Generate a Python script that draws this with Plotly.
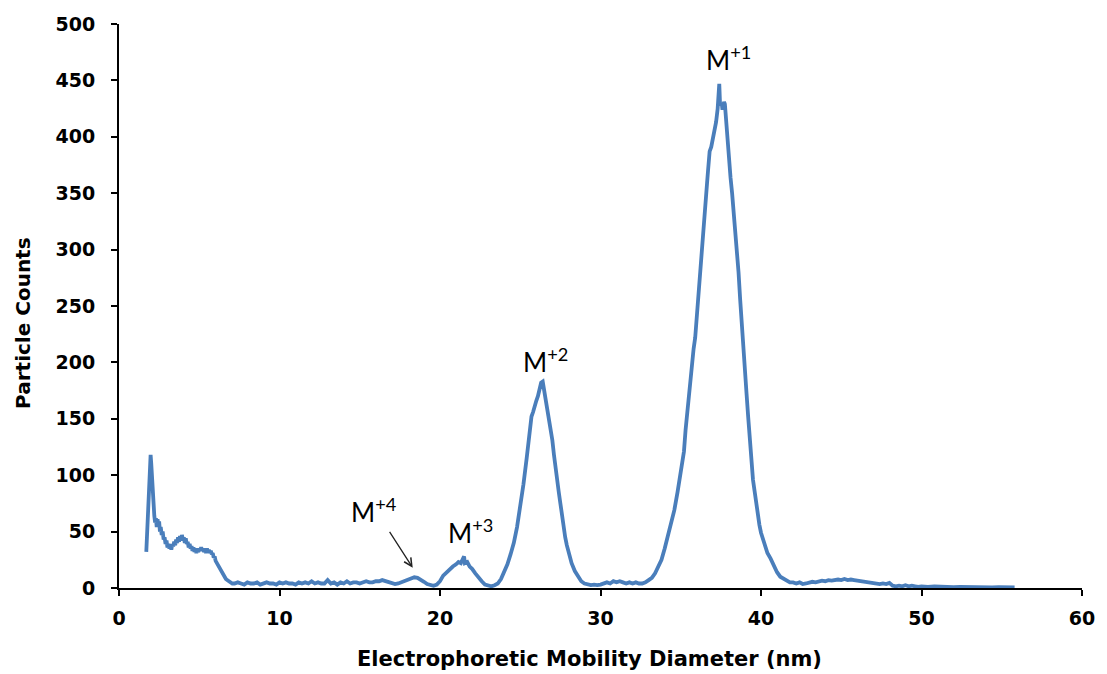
import plotly.graph_objects as go

# Particle size distribution measured by electrophoretic mobility, split by region
x_low = [1.70, 1.76, 1.82, 1.88, 1.93, 1.97, 2.01, 2.05, 2.10,
         2.15, 2.20, 2.25, 2.30, 2.35, 2.40, 2.45, 2.50, 2.55, 2.60,
         2.66, 2.72, 2.78, 2.84, 2.90, 2.96, 3.02, 3.08, 3.14, 3.20,
         3.26, 3.32, 3.38, 3.44, 3.50, 3.56, 3.62, 3.68, 3.74, 3.80,
         3.86, 3.92, 3.98, 4.04, 4.10, 4.16, 4.22, 4.28, 4.34, 4.40,
         4.46, 4.52, 4.58, 4.64, 4.70, 4.76, 4.82, 4.88, 4.94, 5.00,
         5.06, 5.12, 5.18, 5.24, 5.30, 5.36, 5.42, 5.48, 5.54, 5.60,
         5.66, 5.72, 5.78, 5.84, 5.90, 5.96, 6.02,
         6.10, 6.18, 6.26, 6.34, 6.42, 6.50, 6.58, 6.66, 6.74, 6.82, 6.90, 6.98, 7.06]
y_low = [32, 52, 78, 100, 115, 118, 110, 98, 84,
         72, 64, 58, 62, 54, 61, 56, 59, 50, 54,
         47, 50, 43, 45, 39, 42, 36, 39, 35, 38,
         34, 39, 37, 41, 38, 43, 40, 45, 41, 46,
         42, 47, 43, 45, 40, 44, 39, 41, 36, 39,
         35, 37, 33, 36, 32, 35, 31, 34, 32, 35,
         33, 36, 33, 35, 32, 34, 31, 35, 32, 34,
         31, 33, 30, 31, 27, 28, 24,
         22, 19, 18, 15, 14, 11, 10, 8, 7, 6, 5, 5, 4]

x_base = [7.2, 7.4, 7.6, 7.8, 8.0, 8.2, 8.4, 8.6, 8.8, 9.0,
          9.2, 9.4, 9.6, 9.8, 10.0, 10.2, 10.4, 10.6, 10.8, 11.0,
          11.2, 11.4, 11.6, 11.8, 12.0, 12.2, 12.4, 12.6, 12.8, 13.0,
          13.2, 13.4, 13.6, 13.8, 14.0, 14.2, 14.4, 14.6, 14.8, 15.0,
          15.2, 15.4, 15.6, 15.8, 16.0]
y_base = [4, 5, 4, 3, 5, 4, 4, 5, 3, 4,
          5, 4, 4, 3, 5, 4, 5, 4, 4, 3,
          5, 4, 5, 4, 6, 4, 5, 4, 4, 7,
          4, 5, 3, 5, 4, 6, 4, 5, 5, 4,
          5, 6, 5, 5, 6]

x_m4 = [16.2, 16.4, 16.6, 16.8, 17.0, 17.2, 17.4, 17.6, 17.8,
        18.0, 18.2, 18.4, 18.6, 18.8, 19.0, 19.2, 19.4, 19.6]
y_m4 = [6, 7, 6, 5, 4, 3.5, 4, 5, 6,
        7.5, 8.5, 9.5, 9, 7.5, 5.5, 3.5, 2.5, 2]

x_m3 = [19.8, 20.0, 20.2, 20.4, 20.6, 20.8, 21.0, 21.15, 21.3, 21.4,
        21.5, 21.55, 21.7, 21.85, 22.0, 22.2, 22.4, 22.6, 22.8, 23.0, 23.2]
y_m3 = [3, 6, 11, 14, 16, 19, 21, 23, 22, 25,
        28, 22, 23, 19, 17, 13, 9, 6, 3, 2, 1.5]

x_m2 = [23.4, 23.6, 23.8, 24.0, 24.2, 24.4, 24.6, 24.8, 25.0, 25.2,
        25.4, 25.5, 25.6, 25.7, 25.8, 25.9, 26.0, 26.1, 26.2, 26.3,
        26.4, 26.5, 26.6, 26.7, 26.8, 26.9, 27.0, 27.1, 27.2, 27.3,
        27.4, 27.5, 27.6, 27.7, 27.8, 27.9, 28.0, 28.2, 28.4, 28.6,
        28.8, 29.0, 29.2, 29.4, 29.6, 29.8]
y_m2 = [2.5, 4, 8, 14, 21, 30, 40, 54, 72, 92,
        115, 128, 142, 152, 156, 163, 166, 170, 177, 182,
        183, 174, 166, 160, 148, 140, 131, 118, 105, 95,
        85, 75, 64, 54, 45, 38, 32, 22, 15, 10,
        6, 4, 3, 2.5, 3, 2.5]

x_mid = [30.0, 30.2, 30.4, 30.6, 30.8, 31.0, 31.2, 31.4, 31.6, 31.8,
         32.0, 32.2, 32.4, 32.6]
y_mid = [3, 4, 5, 4, 6, 5, 6, 5, 4, 5,
         4, 5, 4, 4]

x_m1 = [32.8, 33.0, 33.2, 33.4, 33.6, 33.8, 34.0, 34.2, 34.4, 34.6,
        34.8, 35.0, 35.1, 35.2, 35.3, 35.4, 35.5, 35.6, 35.7, 35.8,
        35.9, 36.0, 36.1, 36.2, 36.3, 36.4, 36.5, 36.6, 36.65, 36.7,
        36.8, 36.9, 37.0, 37.1, 37.2, 37.3, 37.35, 37.4, 37.45, 37.55,
        37.6, 37.7, 37.75, 37.8, 37.9, 38.0, 38.1, 38.2, 38.3, 38.4,
        38.5, 38.6, 38.7, 38.8, 38.9, 39.0, 39.1, 39.2, 39.3, 39.4,
        39.5, 39.6, 39.7, 39.8, 39.9, 40.0, 40.2, 40.4, 40.6, 40.8, 41.0]
y_m1 = [5, 7, 9, 13, 19, 25, 35, 46, 57, 69,
        85, 104, 112, 121, 140, 155, 170, 187, 197, 212,
        222, 242, 258, 276, 296, 318, 337, 355, 361, 370,
        387, 391, 398, 408, 413, 425, 440, 447, 428, 430,
        424, 431, 429, 418, 398, 380, 364, 350, 334, 316,
        299, 280, 256, 232, 210, 192, 172, 152, 131, 112,
        96, 86, 74, 64, 56, 49, 40, 31, 26, 20, 14]

x_tail = [41.2, 41.4, 41.6, 41.8, 42.0, 42.2, 42.4, 42.6, 42.8, 43.0,
          43.2, 43.4, 43.6, 43.8, 44.0, 44.2, 44.4, 44.6, 44.8, 45.0,
          45.2, 45.4, 45.6, 45.8, 46.0, 46.2, 46.4, 46.6, 46.8, 47.0,
          47.2, 47.4, 47.6, 47.8, 48.0, 48.2, 48.4, 48.6, 48.8, 49.0,
          49.2, 49.4, 49.6, 49.8, 50.0, 50.4, 50.8, 51.2, 51.6, 52.0,
          52.4, 52.8, 53.2, 53.6, 54.0, 54.4, 54.8, 55.2, 55.8]
y_tail = [10, 8, 7, 5, 5, 4, 5, 3.5, 4, 5,
          5.5, 5, 6, 6.5, 6, 7, 6.5, 7, 7.5, 7,
          8, 7, 7.5, 7, 6.5, 6, 5.5, 5, 4.5, 4,
          3.5, 3.5, 4, 3.5, 4.5, 2, 1.5, 2, 1.5, 2.5,
          1.5, 2, 1.5, 1, 1.5, 1, 1.5, 1, 1.2, 0.8,
          1, 0.8, 1, 0.6, 0.8, 0.6, 0.7, 0.5, 0.5]

segments = [(x_low, y_low), (x_base, y_base), (x_m4, y_m4), (x_m3, y_m3),
            (x_m2, y_m2), (x_mid, y_mid), (x_m1, y_m1), (x_tail, y_tail)]
diameter, counts = [], []
for xs, ys in segments:
    assert len(xs) == len(ys), (len(xs), len(ys))
    diameter += xs
    counts += ys

# Peak labels: (x, y, charge state)
peak_labels = [(37.95, 469, "+1"), (26.55, 202, "+2"), (21.9, 50, "+3"), (15.9, 69, "+4")]
# Arrow pointing at the +4 peak: tail and head in data units
arrow_tail = (16.8, 51)
arrow_head = (18.3, 18)

x_ticks = [0, 10, 20, 30, 40, 50, 60]
y_ticks = [0, 50, 100, 150, 200, 250, 300, 350, 400, 450, 500]

fig = go.Figure()
fig.add_trace(go.Scatter(
    x=diameter, y=counts, mode="lines",
    line=dict(color="#4A7EBB", width=3.8),
    showlegend=False, hoverinfo="x+y",
))

tick_font = dict(family="DejaVu Sans", size=19, color="black", weight="bold")
axis_common = dict(
    showgrid=False, zeroline=False, showline=True, linecolor="black",
    linewidth=2, ticks="outside", ticklen=6, tickwidth=2, tickcolor="black",
    tickfont=tick_font,
)

fig.update_layout(
    width=1107, height=674,
    margin=dict(l=119, r=15, t=24, b=86),
    plot_bgcolor="white", paper_bgcolor="white",
    xaxis=dict(range=[0, 60], tickvals=x_ticks, ticklabelstandoff=6, **axis_common),
    yaxis=dict(range=[0, 500], tickvals=y_ticks, ticklabelstandoff=12, **axis_common),
)

annotations = []
for px, py, charge in peak_labels:
    annotations.append(dict(
        x=px, y=py, xref="x", yref="y", showarrow=False,
        text=f"M<sup>{charge}</sup>",
        font=dict(family="Lato", size=26, color="black"),
    ))
annotations.append(dict(
    x=arrow_head[0], y=arrow_head[1], ax=arrow_tail[0], ay=arrow_tail[1],
    xref="x", yref="y", axref="x", ayref="y", text="",
    showarrow=True, arrowhead=5, arrowsize=1.2, arrowwidth=1.3, arrowcolor="#222222",
))
# Axis titles
annotations.append(dict(
    x=0.489, y=-0.126, xref="paper", yref="paper", showarrow=False,
    text="Electrophoretic Mobility Diameter (nm)",
    font=dict(family="DejaVu Sans", size=21, color="black", weight="bold"),
    xanchor="center", yanchor="middle",
))
annotations.append(dict(
    x=-0.0997, y=0.47, xref="paper", yref="paper", showarrow=False,
    text="Particle Counts", textangle=-90,
    font=dict(family="DejaVu Sans", size=20, color="black", weight="bold"),
    xanchor="center", yanchor="middle",
))
fig.update_layout(annotations=annotations)

fig.write_html("out.html")
